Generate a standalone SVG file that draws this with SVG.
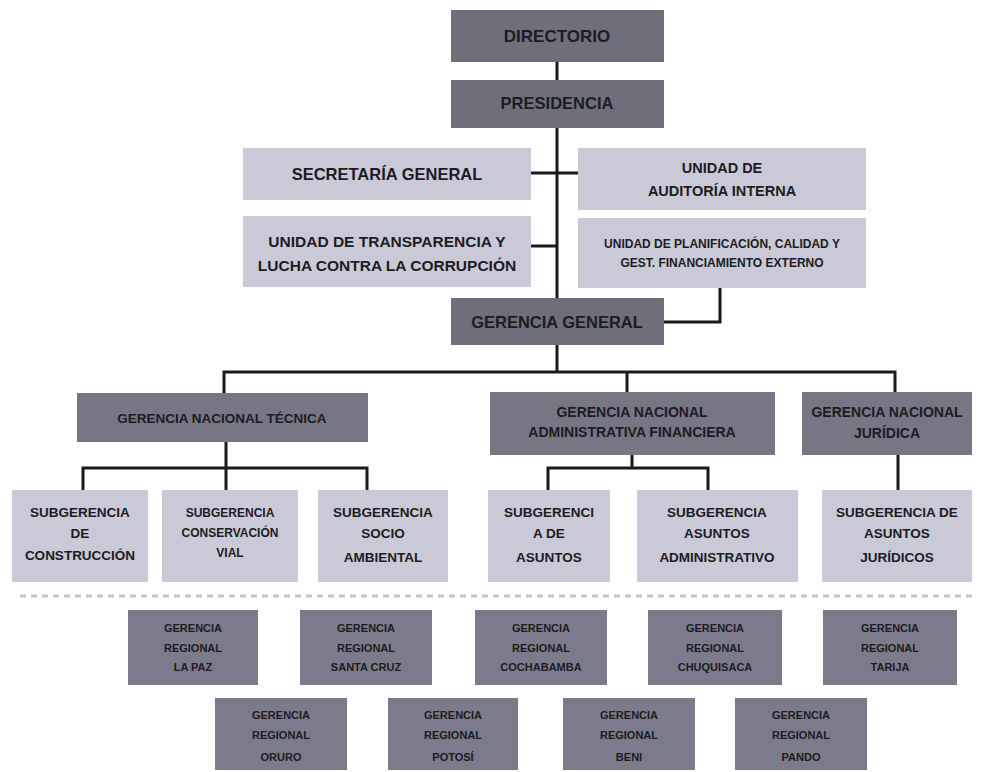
<svg xmlns="http://www.w3.org/2000/svg" width="983" height="772" viewBox="0 0 983 772">
<style>
.dk{fill:#6f6f7b}
.md{fill:#767684}
.lt{fill:#c9c9d7}
.rg{fill:#7b7b8b}
text{font-family:"Liberation Sans",Arial,sans-serif;font-weight:bold;fill:#1c1c22;text-anchor:middle}
.f17{font-size:17px}
.f16{font-size:16.5px}
.f15{font-size:15.5px}
.f14{font-size:14px}
.f13{font-size:13.5px}
.f12{font-size:12px}
.f11{font-size:11px}
.ln{fill:none;stroke:#1a1a1a;stroke-width:3}
</style>
<rect width="983" height="772" fill="#ffffff"/>
<g id="connectors">
<path class="ln" d="M557 62V80"/>
<path class="ln" d="M557 128V298"/>
<path class="ln" d="M531 173H578"/>
<path class="ln" d="M531 246H557"/>
<path class="ln" d="M720 288V322H664"/>
<path class="ln" d="M557 345V372"/>
<path class="ln" d="M224 393V372H895V392"/>
<path class="ln" d="M627 372V392"/>
<path class="ln" d="M226 442V490"/>
<path class="ln" d="M83 490V468H367V490"/>
<path class="ln" d="M632 455V468"/>
<path class="ln" d="M548 490V468H708V490"/>
<path class="ln" d="M898 455V490"/>
<path d="M20 596H975" stroke="#c4c4cc" stroke-width="3" stroke-dasharray="6 5" fill="none"/>
</g>
<g id="directorio"><rect class="dk" x="451" y="10" width="213" height="52"/><text class="f17" x="557" y="42">DIRECTORIO</text></g>
<g id="presidencia"><rect class="dk" x="451" y="80" width="213" height="48"/><text class="f16" x="557" y="109">PRESIDENCIA</text></g>
<g id="secretaria"><rect class="lt" x="243" y="148" width="288" height="52"/><text class="f16" x="387" y="180">SECRETARÍA GENERAL</text></g>
<g id="auditoria"><rect class="lt" x="578" y="148" width="288" height="62"/><text style="font-size:14.5px" x="722" y="173">UNIDAD DE</text><text style="font-size:14.5px" x="722" y="196">AUDITORÍA INTERNA</text></g>
<g id="transparencia"><rect class="lt" x="243" y="216" width="288" height="71"/><text class="f15" x="387" y="247">UNIDAD DE TRANSPARENCIA Y</text><text class="f15" x="387" y="271">LUCHA CONTRA LA CORRUPCIÓN</text></g>
<g id="planificacion"><rect class="lt" x="578" y="218" width="288" height="70"/><text class="f12" x="722" y="248">UNIDAD DE PLANIFICACIÓN, CALIDAD Y</text><text class="f12" x="722" y="267">GEST. FINANCIAMIENTO EXTERNO</text></g>
<g id="gerencia-general"><rect class="dk" x="451" y="298" width="213" height="47"/><text class="f16" x="557" y="328">GERENCIA GENERAL</text></g>
<g id="gn-tecnica"><rect class="md" x="77" y="393" width="291" height="49"/><text class="f13" x="222" y="423">GERENCIA NACIONAL TÉCNICA</text></g>
<g id="gn-administrativa"><rect class="md" x="490" y="392" width="285" height="63"/><text class="f14" x="632" y="417">GERENCIA NACIONAL</text><text class="f14" x="632" y="437">ADMINISTRATIVA FINANCIERA</text></g>
<g id="gn-juridica"><rect class="md" x="802" y="392" width="170" height="63"/><text class="f14" x="887" y="417">GERENCIA NACIONAL</text><text class="f14" x="887" y="438">JURÍDICA</text></g>
<g id="sub-construccion"><rect class="lt" x="12" y="490" width="136" height="92"/><text class="f13" x="80" y="517">SUBGERENCIA</text><text class="f13" x="80" y="538">DE</text><text class="f13" x="80" y="560">CONSTRUCCIÓN</text></g>
<g id="sub-conservacion"><rect class="lt" x="162" y="490" width="136" height="92"/><text class="f12" x="230" y="517">SUBGERENCIA</text><text class="f12" x="230" y="537">CONSERVACIÓN</text><text class="f12" x="230" y="557">VIAL</text></g>
<g id="sub-socio"><rect class="lt" x="318" y="490" width="130" height="92"/><text class="f13" x="383" y="517">SUBGERENCIA</text><text class="f13" x="383" y="538">SOCIO</text><text class="f13" x="383" y="562">AMBIENTAL</text></g>
<g id="sub-asuntos"><rect class="lt" x="488" y="490" width="122" height="92"/><text class="f13" x="549" y="517">SUBGERENCI</text><text class="f13" x="549" y="538">A DE</text><text class="f13" x="549" y="562">ASUNTOS</text></g>
<g id="sub-administrativo"><rect class="lt" x="637" y="490" width="161" height="92"/><text class="f13" x="717" y="517">SUBGERENCIA</text><text class="f13" x="717" y="538">ASUNTOS</text><text class="f13" x="717" y="562">ADMINISTRATIVO</text></g>
<g id="sub-juridicos"><rect class="lt" x="822" y="490" width="150" height="92"/><text class="f13" x="897" y="517">SUBGERENCIA DE</text><text class="f13" x="897" y="538">ASUNTOS</text><text class="f13" x="897" y="562">JURÍDICOS</text></g>
<g id="gr-lapaz"><rect class="rg" x="128" y="610" width="130" height="75"/><text class="f11" x="193" y="632">GERENCIA</text><text class="f11" x="193" y="652">REGIONAL</text><text class="f11" x="193" y="671">LA PAZ</text></g>
<g id="gr-santacruz"><rect class="rg" x="300" y="610" width="132" height="75"/><text class="f11" x="366" y="632">GERENCIA</text><text class="f11" x="366" y="652">REGIONAL</text><text class="f11" x="366" y="671">SANTA CRUZ</text></g>
<g id="gr-cochabamba"><rect class="rg" x="475" y="610" width="132" height="75"/><text class="f11" x="541" y="632">GERENCIA</text><text class="f11" x="541" y="652">REGIONAL</text><text class="f11" x="541" y="671">COCHABAMBA</text></g>
<g id="gr-chuquisaca"><rect class="rg" x="648" y="610" width="134" height="75"/><text class="f11" x="715" y="632">GERENCIA</text><text class="f11" x="715" y="652">REGIONAL</text><text class="f11" x="715" y="671">CHUQUISACA</text></g>
<g id="gr-tarija"><rect class="rg" x="823" y="610" width="134" height="75"/><text class="f11" x="890" y="632">GERENCIA</text><text class="f11" x="890" y="652">REGIONAL</text><text class="f11" x="890" y="671">TARIJA</text></g>
<g id="gr-oruro"><rect class="rg" x="215" y="698" width="132" height="72"/><text class="f11" x="281" y="719">GERENCIA</text><text class="f11" x="281" y="739">REGIONAL</text><text class="f11" x="281" y="761">ORURO</text></g>
<g id="gr-potosi"><rect class="rg" x="388" y="698" width="130" height="72"/><text class="f11" x="453" y="719">GERENCIA</text><text class="f11" x="453" y="739">REGIONAL</text><text class="f11" x="453" y="761">POTOSÍ</text></g>
<g id="gr-beni"><rect class="rg" x="563" y="698" width="132" height="72"/><text class="f11" x="629" y="719">GERENCIA</text><text class="f11" x="629" y="739">REGIONAL</text><text class="f11" x="629" y="761">BENI</text></g>
<g id="gr-pando"><rect class="rg" x="735" y="698" width="132" height="72"/><text class="f11" x="801" y="719">GERENCIA</text><text class="f11" x="801" y="739">REGIONAL</text><text class="f11" x="801" y="761">PANDO</text></g>
</svg>
